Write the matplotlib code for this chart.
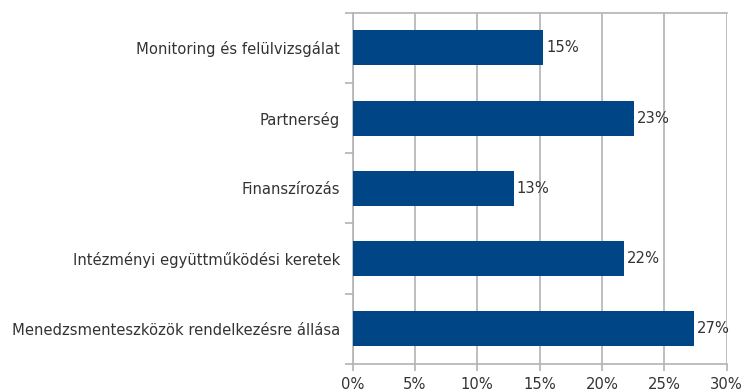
import matplotlib.pyplot as plt
from matplotlib.ticker import FixedLocator, NullFormatter

plt.rcParams['font.family'] = ['DejaVu Sans']

categories = [
    "Monitoring és felülvizsgálat",
    "Partnerség",
    "Finanszírozás",
    "Intézményi együttműködési keretek",
    "Menedzsmenteszközök rendelkezésre állása",
]
values = [15.3, 22.6, 12.9, 21.8, 27.4]
xticks = [0, 5, 10, 15, 20, 25, 30]

bar_color = "#004586"
grid_color = "#b3b3b3"
text_color = "#333333"
fs = 10.6

fig = plt.figure(figsize=(7.42, 3.92), dpi=100)
ax = fig.add_axes([0.4753, 0.0714, 0.5041, 0.8962])

pos = list(range(len(categories)))
ax.barh(pos, values, height=0.5, color=bar_color, zorder=3)

ax.set_xlim(0, 30)
ax.set_ylim(len(categories) - 0.5, -0.5)

# vertical gridlines at each x tick
ax.set_xticks(xticks)
ax.set_xticklabels([f"{t}%" for t in xticks])
ax.grid(axis='x', color=grid_color, linewidth=1.2, zorder=0)

# category labels in the middle, tick marks on the boundaries
ax.set_yticks(pos)
ax.set_yticklabels(categories)
ax.yaxis.set_minor_locator(FixedLocator([p - 0.5 for p in pos] + [len(pos) - 0.5]))
ax.yaxis.set_minor_formatter(NullFormatter())
ax.tick_params(axis='y', which='major', length=0, pad=9, labelsize=fs,
               labelcolor=text_color)
ax.tick_params(axis='y', which='minor', length=6, width=1.2, color=grid_color)
ax.tick_params(axis='x', which='major', length=5, width=1.2, color=grid_color,
               labelsize=fs, labelcolor=text_color, pad=4.5)

for side in ['left', 'bottom', 'top']:
    ax.spines[side].set_color(grid_color)
    ax.spines[side].set_linewidth(1.2)
ax.spines['right'].set_visible(False)

for p, v in zip(pos, values):
    ax.annotate(f"{round(v)}%", xy=(v, p), xytext=(2, 0), textcoords='offset points',
                va='center', ha='left', fontsize=fs, color=text_color, zorder=4)

fig.savefig("out.png", dpi=100)
